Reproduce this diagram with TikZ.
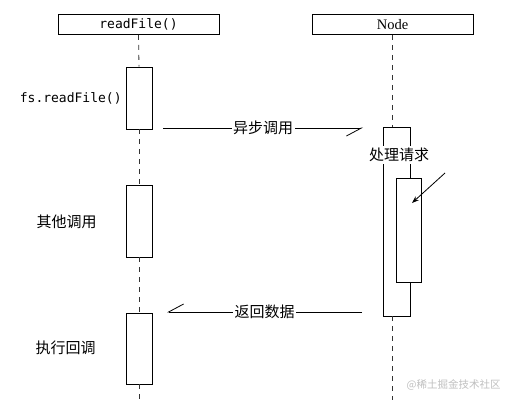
\documentclass[tikz,border=0pt]{standalone}
\usepackage{fontspec}
\setmainfont{Liberation Serif}
\setmonofont{DejaVu Sans Mono}
\newfontfamily\cjk{Noto Sans CJK SC}
\usetikzlibrary{arrows.meta}
\begin{document}
\begin{tikzpicture}[x=1pt,y=-1pt, line width=0.8pt,
  head/.style={draw, minimum width=161pt, minimum height=20pt, inner sep=0pt},
  act/.style={draw, fill=white, inner sep=0pt},
  life/.style={draw=black!80, dash pattern=on 5pt off 5pt},
  msg/.style={draw=black},
  half/.style={-{Straight Barb[harpoon,swap,length=15pt,width=16pt]}},
  lbl/.style={fill=white, inner sep=1.5pt, font=\cjk\fontsize{15}{15}\selectfont},
  side/.style={font=\cjk\fontsize{15}{15}\selectfont, anchor=east, inner sep=0pt},
]
\useasboundingbox (0,0) rectangle (505,400);
% headers
\node[head, font=\ttfamily\fontsize{13}{13}\selectfont] (h1) at (138.5,24.5) {readFile()};
\node[head, font=\fontsize{14.5}{15}\selectfont] (h2) at (392.5,24.5) {Node};
% left activations
\node[act, minimum width=26pt, minimum height=62pt] (a1) at (139,98) {};
\node[act, minimum width=26pt, minimum height=72pt] (a2) at (139,221) {};
\node[act, minimum width=26pt, minimum height=71pt] (a3) at (139,348.5) {};
% right activations
\node[act, minimum width=27pt, minimum height=189pt] (p) at (396.5,221.5) {};
\node[act, minimum width=25pt, minimum height=104pt] (q) at (408.5,230) {};
\node[lbl, inner sep=2pt] (pl) at (399,155) {处理请求};
% lifelines
\coordinate (e1) at (139,400);
\coordinate (e2) at (392.5,400);
\draw[life] (h1.south) -- (a1.north);
\draw[life] (a1.south) -- (a2.north);
\draw[life] (a2.south) -- (a3.north);
\draw[life] (a3.south) -- (e1);
\draw[life] (h2.south) -- (h2.south |- p.north);
\draw[life] (h2.south |- p.south) -- (e2);
% side labels
\node[font=\ttfamily\fontsize{13}{13}\selectfont, anchor=east, inner sep=0pt] (l1) at (122,98.5) {fs.readFile()};
\node[side] (l2) at (97,222) {其他调用};
\node[side] (l3) at (96,348) {执行回调};
% messages
\coordinate (m1s) at (163,128);
\coordinate (m1e) at (363,128);
\draw[msg, half] (m1s) -- node[lbl] (t1) {异步调用} (m1e);
\coordinate (m2s) at (362,312);
\coordinate (m2e) at (167,312);
\draw[msg, half] (m2s) -- node[lbl] (t2) {返回数据} (m2e);
\coordinate (d1) at (445,173);
\coordinate (d2) at (412,203);
\draw[msg, -{Stealth[length=7pt,width=5pt]}] (d1) -- (d2);
% watermark
\node[text=black!25, font=\cjk\fontsize{10.5}{11}\selectfont, anchor=east, inner sep=0pt] (wm) at (501,385) {@稀土掘金技术社区};
\end{tikzpicture}
\end{document}
